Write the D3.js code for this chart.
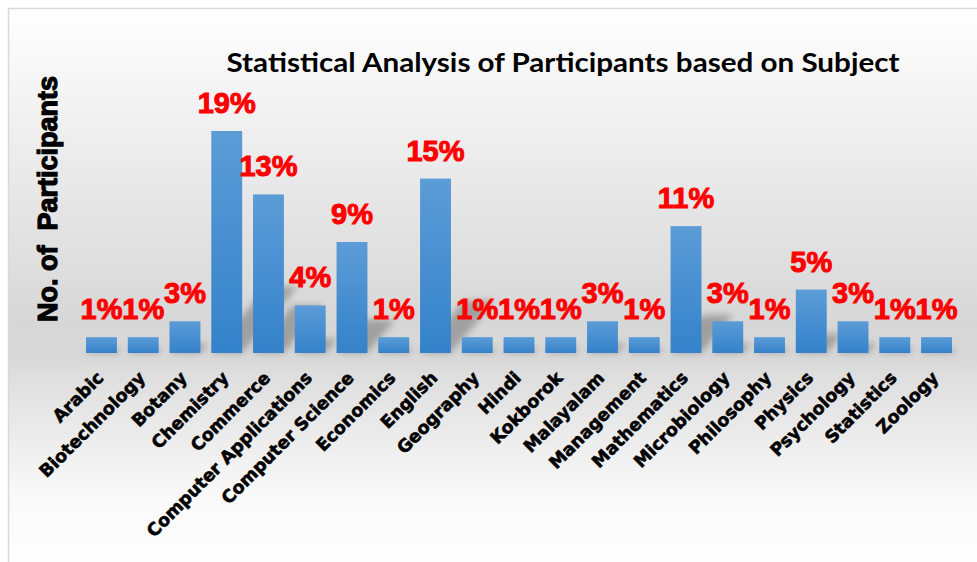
<!DOCTYPE html>
<html>
<head>
<meta charset="utf-8">
<script src="https://cdn.jsdelivr.net/npm/d3@7"></script>
<style>
    body { margin: 0; background: #ffffff; }
    svg { display: block; }
</style>
</head>
<body>
<div id="chart"></div>
<script>
const subjects = ["Arabic", "Biotechnology", "Botany", "Chemistry", "Commerce", "Computer Applications",
    "Computer Science", "Economics", "English", "Geography", "Hindi", "Kokborok", "Malayalam",
    "Management", "Mathematics", "Microbiology", "Philosophy", "Physics", "Psychology", "Statistics", "Zoology"];
const participants = [1, 1, 2, 14, 10, 3, 7, 1, 11, 1, 1, 1, 2, 1, 8, 2, 1, 4, 2, 1, 1];
const percentLabels = ["1%", "1%", "3%", "19%", "13%", "4%", "9%", "1%", "15%", "1%", "1%", "1%", "3%",
    "1%", "11%", "3%", "1%", "5%", "3%", "1%", "1%"];

const width = 977, height = 562;
const baseY = 353;

const svg = d3.select('#chart')
    .append('svg')
    .attr('width', width)
    .attr('height', height);

const defs = svg.append('defs');

// chart area background: white -> grey -> white
const bg = defs.append('linearGradient')
    .attr('id', 'bg_grad')
    .attr('x1', 0).attr('y1', 0).attr('x2', 0).attr('y2', 1);
[[0, '#ffffff'], [0.2, '#f0f0f0'], [0.55, '#d7d7d7'], [0.62, '#d9d9d9'], [0.64, '#dedede'],
 [0.85, '#f9f9f9'], [1, '#ffffff']].forEach(s => {
    bg.append('stop').attr('offset', s[0]).attr('stop-color', s[1]);
});

const barGrad = defs.append('linearGradient')
    .attr('id', 'bar_grad')
    .attr('x1', 0).attr('y1', 0).attr('x2', 0).attr('y2', 1);
barGrad.append('stop').attr('offset', 0).attr('stop-color', '#5c9cd7');
barGrad.append('stop').attr('offset', 1).attr('stop-color', '#3482ca');

defs.append('filter')
    .attr('id', 'blur')
    .attr('x', '-50%').attr('y', '-50%').attr('width', '200%').attr('height', '200%')
    .append('feGaussianBlur')
    .attr('stdDeviation', 3.5);

svg.append('rect')
    .attr('x', 8.5)
    .attr('y', 8.5)
    .attr('width', width + 10)
    .attr('height', height + 10)
    .attr('fill', 'url(#bg_grad)')
    .attr('stroke', '#d9d9d9')
    .attr('stroke-width', 1.5);

const x = d3.scaleBand()
    .domain(subjects)
    .range([80.6, 957.4])
    .paddingInner(0.26)
    .paddingOuter(0.13);

const y = d3.scaleLinear()
    .domain([0, 14])
    .range([baseY, 131]);

// perspective shadows behind the bars
svg.append('g')
    .attr('filter', 'url(#blur)')
    .selectAll('path')
    .data(subjects)
    .enter()
    .append('path')
    .attr('d', (d, i) => {
        const h = baseY - y(participants[i]);
        const x0 = x(d), x1 = x(d) + x.bandwidth();
        const dx = h * 0.25, dy = h * 0.3;
        return `M${x0},${baseY} L${x1},${baseY} L${x1 + dx},${baseY - dy} L${x0 + dx},${baseY - dy} Z`;
    })
    .attr('fill', '#7a7a7a')
    .attr('opacity', 0.6);

svg.append('g')
    .selectAll('rect')
    .data(subjects)
    .enter()
    .append('rect')
    .attr('x', d => x(d))
    .attr('y', (d, i) => y(participants[i]))
    .attr('width', x.bandwidth())
    .attr('height', (d, i) => baseY - y(participants[i]))
    .attr('fill', 'url(#bar_grad)');

svg.append('g')
    .selectAll('text')
    .data(subjects)
    .enter()
    .append('text')
    .attr('x', d => x(d) + x.bandwidth() / 2)
    .attr('y', (d, i) => y(participants[i]) - 18)
    .attr('text-anchor', 'middle')
    .style('font-family', 'Liberation Sans, Arial, sans-serif')
    .style('font-weight', 'bold')
    .style('font-size', '29px')
    .attr('fill', '#ff0000')
    .attr('stroke', '#ff0000')
    .attr('stroke-width', 1)
    .text((d, i) => percentLabels[i]);

// category labels, rotated
svg.append('g')
    .selectAll('text')
    .data(subjects)
    .enter()
    .append('text')
    .attr('transform', d => `translate(${x(d) + x.bandwidth() / 2 + 3},${379}) rotate(-45)`)
    .attr('text-anchor', 'end')
    .style('font-family', 'DejaVu Sans, sans-serif')
    .style('font-weight', 'bold')
    .style('font-size', '17.5px')
    .attr('fill', '#000')
    .attr('stroke', '#000')
    .attr('stroke-width', 0.6)
    .text(d => d);

svg.append('text')
    .attr('x', 563)
    .attr('y', 72)
    .attr('text-anchor', 'middle')
    .style('font-family', 'Lato, sans-serif')
    .style('font-weight', 'bold')
    .style('font-size', '27px')
    .attr('textLength', 673)
    .attr('lengthAdjust', 'spacingAndGlyphs')
    .attr('fill', '#000')
    .text('Statistical Analysis of Participants based on Subject');

svg.append('text')
    .attr('transform', 'translate(57,199) rotate(-90)')
    .attr('text-anchor', 'middle')
    .style('font-family', 'Liberation Sans, Arial, sans-serif')
    .style('font-weight', 'bold')
    .style('font-size', '27px')
    .style('white-space', 'pre')
    .attr('fill', '#000')
    .attr('stroke', '#000')
    .attr('stroke-width', 1.2)
    .text('No. of  Participants');
</script>
</body>
</html>
